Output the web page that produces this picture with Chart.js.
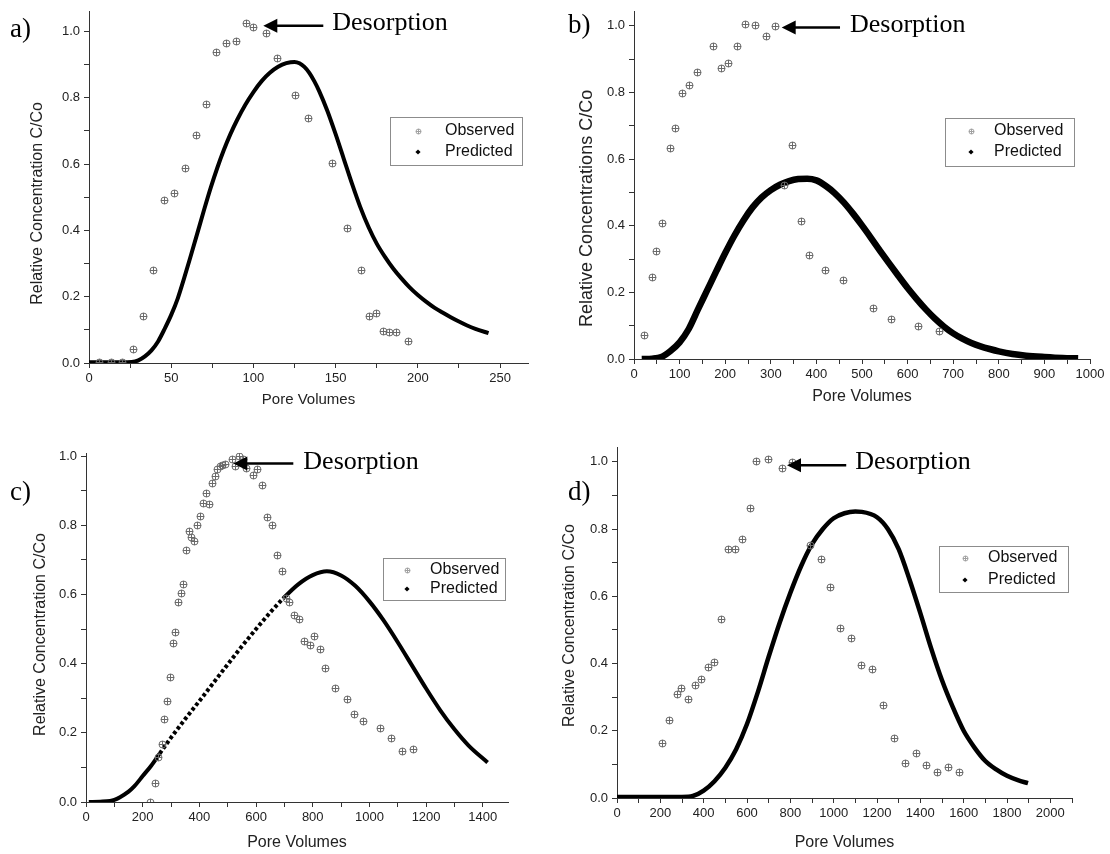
<!DOCTYPE html>
<html>
<head>
<meta charset="utf-8">
<title>Observed vs predicted breakthrough curves</title>
<script src="https://cdn.jsdelivr.net/npm/chart.js@4.4.1/dist/chart.umd.min.js"></script>
<style>
  html, body { margin: 0; padding: 0; background: #fff; }
  #page { position: relative; width: 1110px; height: 854px; overflow: hidden; }
  .panel { position: absolute; }
  canvas { display: block; }
</style>
</head>
<body>
<div id="page">
  <div class="panel" style="left:0;top:0"><canvas id="chartA" width="555" height="420"></canvas></div>
  <div class="panel" style="left:555px;top:0"><canvas id="chartB" width="555" height="420"></canvas></div>
  <div class="panel" style="left:0;top:427px"><canvas id="chartC" width="555" height="427"></canvas></div>
  <div class="panel" style="left:555px;top:427px"><canvas id="chartD" width="555" height="427"></canvas></div>
</div>
<script>
// ---- data ----
// a)
const obsA_x = [6.5, 13.6, 20.3, 27, 33.3, 39.4, 45.9, 52.2, 58.7, 65.2, 71.3, 77.4, 83.7, 89.6, 95.9, 100, 108, 114.8, 125.3, 133.2, 148.2, 157.3, 165.9, 170.3, 175, 179, 182.7, 187.1, 194.6];
const obsA_y = [0.003, 0.003, 0.003, 0.04, 0.14, 0.28, 0.491, 0.512, 0.587, 0.687, 0.779, 0.936, 0.964, 0.968, 1.023, 1.013, 0.995, 0.918, 0.807, 0.736, 0.601, 0.405, 0.28, 0.14, 0.15, 0.096, 0.091, 0.091, 0.064];
const predA_x = [0, 10, 20, 26, 30, 34, 38, 42, 46, 50, 54, 58, 62, 66, 70, 74, 78, 82, 86, 90, 95, 100, 105, 110, 115, 120, 125, 128, 131, 134, 137, 140, 145, 150, 155, 160, 165, 170, 175, 180, 185, 190, 195, 200, 205, 210, 215, 220, 225, 230, 235, 243];
const predA_y = [0.002, 0.002, 0.002, 0.003, 0.008, 0.02, 0.038, 0.065, 0.103, 0.145, 0.195, 0.258, 0.325, 0.393, 0.462, 0.528, 0.588, 0.642, 0.69, 0.732, 0.778, 0.817, 0.85, 0.875, 0.893, 0.904, 0.908, 0.904, 0.893, 0.875, 0.85, 0.82, 0.76, 0.69, 0.615, 0.54, 0.47, 0.41, 0.36, 0.32, 0.285, 0.255, 0.228, 0.205, 0.185, 0.167, 0.152, 0.138, 0.125, 0.113, 0.103, 0.09];

// b)
const obsB_x = [22.7, 39.5, 49.7, 62.9, 80.4, 91.4, 106, 121.3, 139.6, 174.7, 190.8, 208.3, 225.9, 244.2, 267.5, 290.2, 311.4, 331, 348, 367.7, 383.8, 421, 460.5, 524.8, 563.6, 623.5, 671];
const obsB_y = [0.07, 0.244, 0.323, 0.406, 0.633, 0.693, 0.797, 0.821, 0.86, 0.937, 0.873, 0.887, 0.937, 1.003, 1.0, 0.969, 0.998, 0.52, 0.64, 0.412, 0.311, 0.266, 0.235, 0.153, 0.12, 0.097, 0.084];
const predB_x = [17, 40, 60, 80, 100, 120, 140, 160, 180, 200, 220, 240, 260, 280, 300, 320, 340, 360, 380, 400, 420, 440, 460, 480, 500, 520, 540, 560, 580, 600, 620, 640, 660, 680, 700, 720, 740, 760, 780, 800, 830, 860, 900, 940, 974];
const predB_y = [0, 0.001, 0.006, 0.024, 0.05, 0.09, 0.148, 0.205, 0.262, 0.318, 0.37, 0.416, 0.455, 0.485, 0.507, 0.523, 0.534, 0.54, 0.541, 0.536, 0.52, 0.498, 0.47, 0.437, 0.401, 0.363, 0.324, 0.286, 0.249, 0.213, 0.18, 0.149, 0.121, 0.097, 0.077, 0.061, 0.048, 0.038, 0.03, 0.023, 0.015, 0.01, 0.006, 0.003, 0.002];

// c)
const obsC_x = [225.9, 243.5, 256.5, 269.4, 277.6, 287, 296.5, 307, 316.5, 327, 335.3, 344.7, 355.3, 364.7, 370.6, 383.5, 393, 404.7, 415.3, 425.9, 436.5, 447, 456.5, 463.5, 473, 482.4, 491.8, 517.6, 529, 543, 555, 567, 590, 605.7, 623.4, 641, 657.5, 675, 691.6, 708, 719.8, 736.3, 755, 771.6, 790.4, 805.6, 826.8, 845.7, 882, 922, 949, 979.8, 1039.8, 1079.7, 1117.5, 1153.8];
const obsC_y = [0.0, 0.054, 0.13, 0.167, 0.238, 0.291, 0.36, 0.458, 0.489, 0.578, 0.602, 0.628, 0.728, 0.782, 0.765, 0.754, 0.798, 0.824, 0.863, 0.892, 0.861, 0.921, 0.942, 0.96, 0.969, 0.972, 0.977, 0.991, 0.969, 0.998, 0.99, 0.964, 0.943, 0.962, 0.916, 0.823, 0.8, 0.713, 0.667, 0.588, 0.577, 0.539, 0.528, 0.464, 0.453, 0.478, 0.441, 0.385, 0.329, 0.296, 0.254, 0.234, 0.212, 0.185, 0.147, 0.153];
const predC_x = [10, 50, 85, 100, 120, 150, 170, 200, 230, 260, 300, 350, 400, 450, 500, 550, 600, 650, 700, 750, 800, 850, 900, 950, 1000, 1050, 1100, 1150, 1200, 1250, 1300, 1350, 1417];
const predC_y = [0.0, 0.001, 0.003, 0.006, 0.014, 0.03, 0.045, 0.075, 0.105, 0.14, 0.186, 0.24, 0.292, 0.345, 0.398, 0.45, 0.5, 0.548, 0.592, 0.63, 0.656, 0.667, 0.655, 0.625, 0.58, 0.525, 0.462, 0.395, 0.328, 0.265, 0.21, 0.163, 0.114];

// d)
const obsD_x = [207.7, 241.5, 278.5, 297, 329, 363, 392, 423, 452, 480, 514, 549, 580, 615, 644.6, 700, 766, 811, 892, 946, 986, 1033.7, 1081, 1130.6, 1181, 1230, 1282.8, 1333.5, 1381, 1430.6, 1481, 1532, 1582.8];
const obsD_y = [0.163, 0.231, 0.309, 0.326, 0.294, 0.336, 0.351, 0.388, 0.404, 0.53, 0.738, 0.74, 0.768, 0.862, 1.001, 1.007, 0.98, 0.999, 0.75, 0.71, 0.627, 0.504, 0.474, 0.393, 0.383, 0.274, 0.178, 0.103, 0.132, 0.096, 0.076, 0.091, 0.076];
const predD_x = [0, 100, 200, 300, 350, 400, 450, 500, 550, 600, 650, 700, 750, 800, 850, 900, 950, 1000, 1050, 1100, 1130, 1200, 1250, 1300, 1350, 1400, 1450, 1500, 1550, 1600, 1650, 1700, 1750, 1800, 1850, 1897];
const predD_y = [0.003, 0.003, 0.003, 0.003, 0.006, 0.022, 0.05, 0.09, 0.145, 0.22, 0.315, 0.42, 0.52, 0.61, 0.69, 0.755, 0.8, 0.832, 0.847, 0.852, 0.851, 0.835, 0.8, 0.74, 0.65, 0.55, 0.445, 0.35, 0.27, 0.2, 0.15, 0.11, 0.085, 0.066, 0.053, 0.044];

const xTitle = 'Pore Volumes';
const legendLabels = ['Observed', 'Predicted'];
const noteText = 'Desorption';

// ---- helpers ----
const SANS = '"Liberation Sans", Arial, Helvetica, sans-serif';
const SERIF = '"Liberation Serif", "Times New Roman", serif';

function toPoints(xs, ys) {
  return xs.map((x, i) => ({ x: x, y: ys[i] }));
}

// circle with a plus inside, used for the observed points
function crossCircle(r, color) {
  const s = Math.round(r * 2) + 2;
  const c = document.createElement('canvas');
  c.width = s; c.height = s;
  const g = c.getContext('2d');
  const m = s / 2;
  g.strokeStyle = color;
  g.lineWidth = 1;
  g.beginPath();
  g.arc(m, m, r, 0, Math.PI * 2);
  g.moveTo(m - r, m); g.lineTo(m + r, m);
  g.moveTo(m, m - r); g.lineTo(m, m + r);
  g.stroke();
  return c;
}
const obsMarker = crossCircle(3.5, '#6a6a6a');

// y title (sits a bit below the axis middle in the original), panel letter,
// arrow + "Desorption", boxed legend
const decorPlugin = {
  id: 'decor',
  beforeDatasetsDraw(chart) {
    chart.ctx.imageSmoothingEnabled = false;
  },
  afterDraw(chart, args, o) {
    const ctx = chart.ctx;
    const xs = chart.scales.x, ys = chart.scales.y;
    const area = chart.chartArea;
    ctx.save();
    ctx.imageSmoothingEnabled = true;

    ctx.save();
    ctx.translate(o.yTitleX, (area.top + area.bottom) / 2 + o.yTitleShift);
    ctx.rotate(-Math.PI / 2);
    ctx.textAlign = 'center';
    ctx.textBaseline = 'middle';
    ctx.fillStyle = '#222';
    ctx.font = o.yTitleFont + 'px ' + SANS;
    ctx.fillText(o.yTitle, 0, 0);
    ctx.restore();

    ctx.fillStyle = '#000';
    ctx.textBaseline = 'alphabetic';
    ctx.textAlign = 'left';
    ctx.font = '27px ' + SERIF;
    ctx.fillText(o.letter, o.letterAt[0], o.letterAt[1]);

    // arrow pointing at the desorption peak
    const tipX = xs.getPixelForValue(o.tip[0]);
    const tipY = ys.getPixelForValue(o.tip[1]);
    const tailX = xs.getPixelForValue(o.tailX);
    ctx.strokeStyle = '#000';
    ctx.lineWidth = 2.5;
    ctx.beginPath();
    ctx.moveTo(tipX + 10, tipY);
    ctx.lineTo(tailX, tipY);
    ctx.stroke();
    ctx.beginPath();
    ctx.moveTo(tipX, tipY);
    ctx.lineTo(tipX + 14, tipY - 7);
    ctx.lineTo(tipX + 14, tipY + 7);
    ctx.closePath();
    ctx.fill();
    ctx.font = '26px ' + SERIF;
    ctx.fillText(noteText, tailX + o.textDx, tipY + o.textDy);

    // legend box
    const b = o.box;
    ctx.fillStyle = '#fff';
    ctx.fillRect(b[0], b[1], b[2], b[3]);
    ctx.strokeStyle = '#8c8c8c';
    ctx.lineWidth = 1;
    ctx.strokeRect(b[0] + 0.5, b[1] + 0.5, b[2], b[3]);
    const small = crossCircle(2.5, '#a0a0a0');
    ctx.drawImage(small, Math.round(o.markX - small.width / 2), Math.round(o.rows[0] - small.height / 2));
    ctx.fillStyle = '#000';
    ctx.beginPath();
    ctx.moveTo(o.markX, o.rows[1] - 2.6);
    ctx.lineTo(o.markX + 2.6, o.rows[1]);
    ctx.lineTo(o.markX, o.rows[1] + 2.6);
    ctx.lineTo(o.markX - 2.6, o.rows[1]);
    ctx.closePath();
    ctx.fill();
    ctx.font = o.legendFont + 'px ' + SANS;
    ctx.textBaseline = 'middle';
    ctx.fillStyle = '#111';
    ctx.fillText(legendLabels[0], o.textX, o.rows[0]);
    ctx.fillText(legendLabels[1], o.textX, o.rows[1]);
    ctx.restore();
  }
};

function makePanel(id, p) {
  const dotted = p.dotted;
  new Chart(document.getElementById(id), {
    type: 'scatter',
    data: {
      datasets: [
        {
          label: legendLabels[0],
          data: toPoints(p.obsX, p.obsY),
          pointStyle: obsMarker,
          pointRadius: 4,
          showLine: false
        },
        {
          label: legendLabels[1],
          data: toPoints(p.predX, p.predY),
          showLine: true,
          borderColor: '#000',
          backgroundColor: '#000',
          borderWidth: p.lineW,
          pointRadius: 0,
          cubicInterpolationMode: 'monotone',
          borderCapStyle: 'butt',
          segment: {
            borderDash: ctx => (dotted && ctx.p0.parsed.x >= dotted[0] && ctx.p1.parsed.x <= dotted[1]) ? [3.5, 2.5] : undefined
          }
        }
      ]
    },
    options: {
      responsive: false,
      animation: false,
      events: [],
      layout: { padding: { left: 0, top: p.padTop, right: p.padRight, bottom: 0 } },
      plugins: {
        legend: { display: false },
        tooltip: { enabled: false },
        decor: p.decor
      },
      scales: {
        x: {
          type: 'linear',
          min: 0,
          max: p.xMax,
          afterFit: s => { s.height = p.xAxisH; },
          border: { color: '#333', width: 1 },
          grid: { drawOnChartArea: false, tickLength: 5, color: '#333' },
          ticks: {
            stepSize: p.xStep,
            includeBounds: false,
            autoSkip: false,
            maxRotation: 0,
            padding: 3,
            color: '#222',
            font: { family: SANS, size: p.tickFont },
            callback: v => (Math.round(v) % p.xMajor === 0 ? String(Math.round(v)) : '')
          },
          title: {
            display: true,
            text: xTitle,
            color: '#222',
            font: { family: SANS, size: p.titleFont },
            padding: { top: 0, bottom: p.xTitlePad }
          }
        },
        y: {
          type: 'linear',
          min: 0,
          max: p.yMax,
          afterFit: s => { s.width = p.axisLeft; },
          border: { color: '#333', width: 1 },
          grid: { drawOnChartArea: false, tickLength: 5, color: '#333' },
          ticks: {
            stepSize: 0.1,
            includeBounds: false,
            autoSkip: false,
            padding: 4,
            color: '#222',
            font: { family: SANS, size: p.tickFont },
            callback: v => (Math.round(v * 10) % 2 === 0 ? v.toFixed(1) : '')
          },
          title: { display: false }
        }
      }
    },
    plugins: [decorPlugin]
  });
}

makePanel('chartA', {
  obsX: obsA_x, obsY: obsA_y, predX: predA_x, predY: predA_y,
  axisLeft: 89, padTop: 10, padRight: 27, xAxisH: 57,
  xMax: 267, yMax: 1.059, xStep: 25, xMajor: 50, lineW: 4,
  tickFont: 13, titleFont: 15, xTitlePad: 11,
  decor: { yTitle: 'Relative Concentration C/Co', yTitleFont: 16, yTitleX: 37.5, yTitleShift: 16,
           letter: 'a)', letterAt: [10, 37], tip: [106, 1.017], tailX: 142.5, textDx: 9, textDy: 4,
           box: [390, 117, 132, 48], markX: 418, textX: 445, rows: [131, 152], legendFont: 16 }
});

makePanel('chartB', {
  obsX: obsB_x, obsY: obsB_y, predX: predB_x, predY: predB_y,
  axisLeft: 79, padTop: 10, padRight: 20, xAxisH: 61,
  xMax: 1000, yMax: 1.042, xStep: 50, xMajor: 100, lineW: 6.5,
  tickFont: 13, titleFont: 16, xTitlePad: 14,
  decor: { yTitle: 'Relative Concentrations C/Co', yTitleFont: 18, yTitleX: 32, yTitleShift: 23,
           letter: 'b)', letterAt: [13, 33], tip: [323.9, 0.995], tailX: 451.8, textDx: 10, textDy: 5,
           box: [390, 118, 129, 48], markX: 416, textX: 439, rows: [131, 152], legendFont: 16 }
});

makePanel('chartC', {
  obsX: obsC_x, obsY: obsC_y, predX: predC_x, predY: predC_y, dotted: [260, 700],
  axisLeft: 86, padTop: 26, padRight: 47, xAxisH: 52,
  xMax: 1489, yMax: 1.009, xStep: 100, xMajor: 200, lineW: 4,
  tickFont: 13, titleFont: 16, xTitlePad: 2,
  decor: { yTitle: 'Relative Concentration C/Co', yTitleFont: 16, yTitleX: 40.5, yTitleShift: 7,
           letter: 'c)', letterAt: [10, 73], tip: [519.8, 0.979], tailX: 731.5, textDx: 10, textDy: 6,
           box: [383, 131, 122, 42], markX: 407, textX: 430, rows: [143, 162], legendFont: 16 }
});

makePanel('chartD', {
  obsX: obsD_x, obsY: obsD_y, predX: predD_x, predY: predD_y,
  axisLeft: 62, padTop: 20, padRight: 38, xAxisH: 56,
  xMax: 2100, yMax: 1.044, xStep: 100, xMajor: 200, lineW: 4.5,
  tickFont: 13, titleFont: 16, xTitlePad: 2,
  decor: { yTitle: 'Relative Concentration C/Co', yTitleFont: 16, yTitleX: 14.5, yTitleShift: 3,
           letter: 'd)', letterAt: [13, 73], tip: [784.5, 0.99], tailX: 1058, textDx: 9, textDy: 4,
           box: [384, 119, 129, 46], markX: 410, textX: 433, rows: [131, 153], legendFont: 16 }
});
</script>
</body>
</html>
